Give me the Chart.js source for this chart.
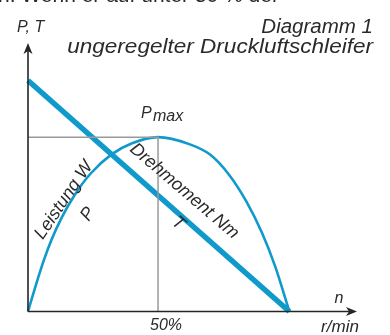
<!DOCTYPE html>
<html>
<head>
<meta charset="utf-8">
<script src="https://cdn.jsdelivr.net/npm/chart.js@4/dist/chart.umd.min.js"></script>
<style>
  html, body { margin: 0; padding: 0; background: #fff; }
  #wrap { position: relative; width: 390px; height: 335px; }
</style>
</head>
<body>
<div id="wrap"><canvas id="chart"></canvas></div>
<script>
// speed n in % of no-load speed
const speedPct = [0, 3, 6, 9, 13, 18, 24, 32, 40, 50, 62, 70, 77, 84, 90, 95, 100.5]
// power P, relative (Pmax = 100)
const power = [0, 15, 29, 41, 54, 67, 79, 90, 96.5, 100, 96, 90, 79, 63, 45, 26, 0]
// torque T, straight falling line
const torqueSpeed = [0, 100.5]
const torque = [132.5, 0]
// Pmax guide
const pmaxSpeed = [0, 50, 50]
const pmaxLevel = [100, 100, 0]

const blue = '#0f9acb'
const ink = '#262626'
const font = '"Liberation Sans", Arial, sans-serif'

const pts = (xs, ys) => xs.map((x, i) => ({ x: x, y: ys[i] }))

function arrow(ctx, x, y, dir) {
  // stealth style arrow head, tip at (x, y)
  ctx.save()
  ctx.translate(x, y)
  ctx.rotate(dir)
  ctx.beginPath()
  ctx.moveTo(0, 0)
  ctx.lineTo(-11, -4.5)
  ctx.lineTo(-8, 0)
  ctx.lineTo(-11, 4.5)
  ctx.closePath()
  ctx.fill()
  ctx.restore()
}

function label(ctx, text, x, y, size, rot, align, stretch) {
  ctx.save()
  ctx.translate(x, y)
  ctx.rotate((rot || 0) * Math.PI / 180)
  if (stretch) ctx.scale(stretch, 1)
  ctx.font = 'italic ' + size + 'px ' + font
  ctx.textAlign = align || 'center'
  ctx.textBaseline = 'alphabetic'
  ctx.fillText(text, 0, 0)
  ctx.restore()
}

const axesPlugin = {
  id: 'axes',
  afterDatasetsDraw(chart) {
    const { ctx, chartArea: a, scales } = chart
    const sx = scales.x, sy = scales.y
    ctx.save()
    ctx.strokeStyle = ink
    ctx.fillStyle = ink
    ctx.lineWidth = 1.6
    ctx.beginPath()
    ctx.moveTo(a.left, a.bottom)
    ctx.lineTo(a.right - 4, a.bottom)
    ctx.moveTo(a.left, a.bottom)
    ctx.lineTo(a.left, a.top + 4)
    ctx.stroke()
    arrow(ctx, a.right, a.bottom, 0)
    arrow(ctx, a.left, a.top, -Math.PI / 2)

    ctx.fillStyle = '#2a2a2a'
    // running text line above the figure, cut off by the top edge
    ctx.font = '21px ' + font
    ctx.textAlign = 'left'
    ctx.textBaseline = 'alphabetic'
    ctx.fillText('n. Wenn er auf unter 50 % der', -2, 1.5)

    label(ctx, 'P, T', 17, 32, 16, 0, 'left')
    label(ctx, 'Diagramm 1', 373, 33, 20.5, 0, 'right')
    label(ctx, 'ungeregelter Druckluftschleifer', 373, 53, 20.5, 0, 'right', 1.1)

    const px = sx.getPixelForValue(50), py = sy.getPixelForValue(100)
    label(ctx, 'P', px - 17, py - 19, 16, 0, 'left')
    label(ctx, 'max', px - 5, py - 16, 16, 0, 'left')

    label(ctx, 'Leistung W', 68, 203, 18, -56)
    label(ctx, 'P', 92, 217, 18, -56)
    label(ctx, 'Drehmoment Nm', 181, 195, 18, 40.5)
    label(ctx, 'T', 175, 227, 18, 40.5)

    label(ctx, '50%', sx.getPixelForValue(50) - 8, 330, 16, 0, 'left')
    label(ctx, 'n', 339, 303, 16)
    label(ctx, 'r/min', 340, 332, 17)
    ctx.restore()
  }
}

new Chart(document.getElementById('chart'), {
  type: 'line',
  data: {
    datasets: [
      {
        data: pts(pmaxSpeed, pmaxLevel),
        borderColor: '#9a9a9a',
        borderWidth: 1.5,
        pointRadius: 0,
        tension: 0,
        clip: false
      },
      {
        data: pts(speedPct, power),
        borderColor: blue,
        borderWidth: 2.6,
        pointRadius: 0,
        cubicInterpolationMode: 'monotone',
        clip: false
      },
      {
        data: pts(torqueSpeed, torque),
        borderColor: blue,
        borderWidth: 5.5,
        pointRadius: 0,
        tension: 0,
        clip: false
      }
    ]
  },
  options: {
    responsive: true,
    maintainAspectRatio: false,
    animation: false,
    layout: { padding: { left: 28, right: 33, top: 43, bottom: 23.5 } },
    plugins: { legend: { display: false }, tooltip: { enabled: false } },
    scales: {
      x: { type: 'linear', display: false, min: 0, max: 126.5 },
      y: { type: 'linear', display: false, min: 0, max: 154 }
    }
  },
  plugins: [axesPlugin]
})
</script>
</body>
</html>
